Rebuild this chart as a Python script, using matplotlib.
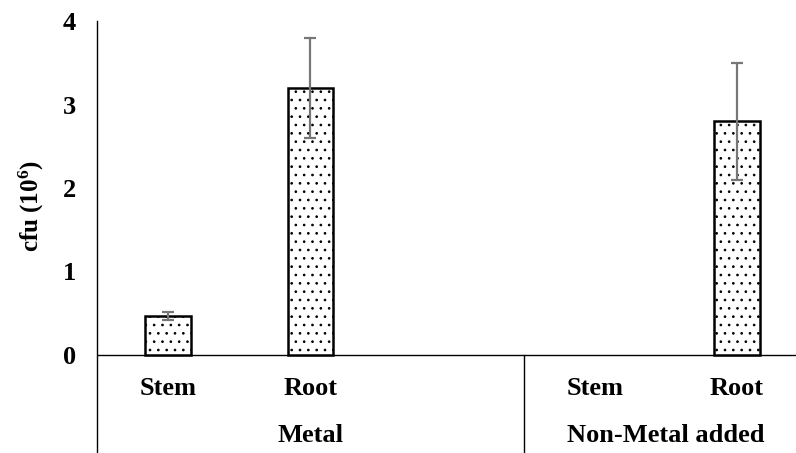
import numpy as np
import matplotlib
matplotlib.use('Agg')
import matplotlib.pyplot as plt

plt.rcParams['font.family'] = ['Liberation Serif', 'DejaVu Serif']
plt.rcParams['font.weight'] = 'bold'
plt.rcParams['hatch.linewidth'] = 0.7
plt.rcParams['mathtext.default'] = 'regular'

# data
groups = ['Metal', 'Non-Metal added']
tissues = ['Stem', 'Root']
metal_vals = [0.47, 3.2]
metal_err = [0.05, 0.6]
nonmetal_vals = [0.0, 2.8]
nonmetal_err = [0.0, 0.7]

pos_metal = np.array([0, 1])
pos_nonmetal = np.array([3, 4])

fig = plt.figure(figsize=(7.96, 4.53), dpi=100)
ax = fig.add_axes([97/796, 0, 1 - 97/796, 1 - 21/453])

y0 = -98/83.5
ax.set_xlim(-0.5, 4.415)
ax.set_ylim(y0, 4.0)

for pos, vals, err in [(pos_metal, metal_vals, metal_err),
                       (pos_nonmetal, nonmetal_vals, nonmetal_err)]:
    for p, v, e in zip(pos, vals, err):
        if v <= 0:
            continue
        ax.bar(p, v, width=0.32, color='white', edgecolor='black',
               linewidth=1.8, hatch='..', zorder=2)
        ax.errorbar(p, v, yerr=e, fmt='none', ecolor='#777777',
                    elinewidth=1.6, capsize=4.5, capthick=1.6, zorder=3)

ax.axhline(0, color='black', lw=1, zorder=1)
ax.plot([2.5, 2.5], [y0, 0], color='black', lw=1)

for s in ['top', 'right', 'bottom']:
    ax.spines[s].set_visible(False)
ax.spines['left'].set_linewidth(1)

ax.set_xticks([])
ax.set_yticks([0, 1, 2, 3, 4])
ax.tick_params(axis='y', length=0, pad=15, labelsize=19)
for t in ax.get_yticklabels():
    t.set_fontweight('bold')

for p, name in zip(list(pos_metal) + list(pos_nonmetal), tissues * 2):
    ax.text(p, -0.4, name, ha='center', va='center', fontsize=19,
            fontweight='bold')
ax.text(1, -0.97, groups[0], ha='center', va='center', fontsize=19,
        fontweight='bold')
ax.text(3.5, -0.97, groups[1], ha='center', va='center', fontsize=19,
        fontweight='bold')

fig.text(31/796, 1 - 206/453, 'cfu (10$^6$)', rotation=90, ha='center',
         va='center', fontsize=18, fontweight='bold')

fig.savefig('out.png', dpi=100)
